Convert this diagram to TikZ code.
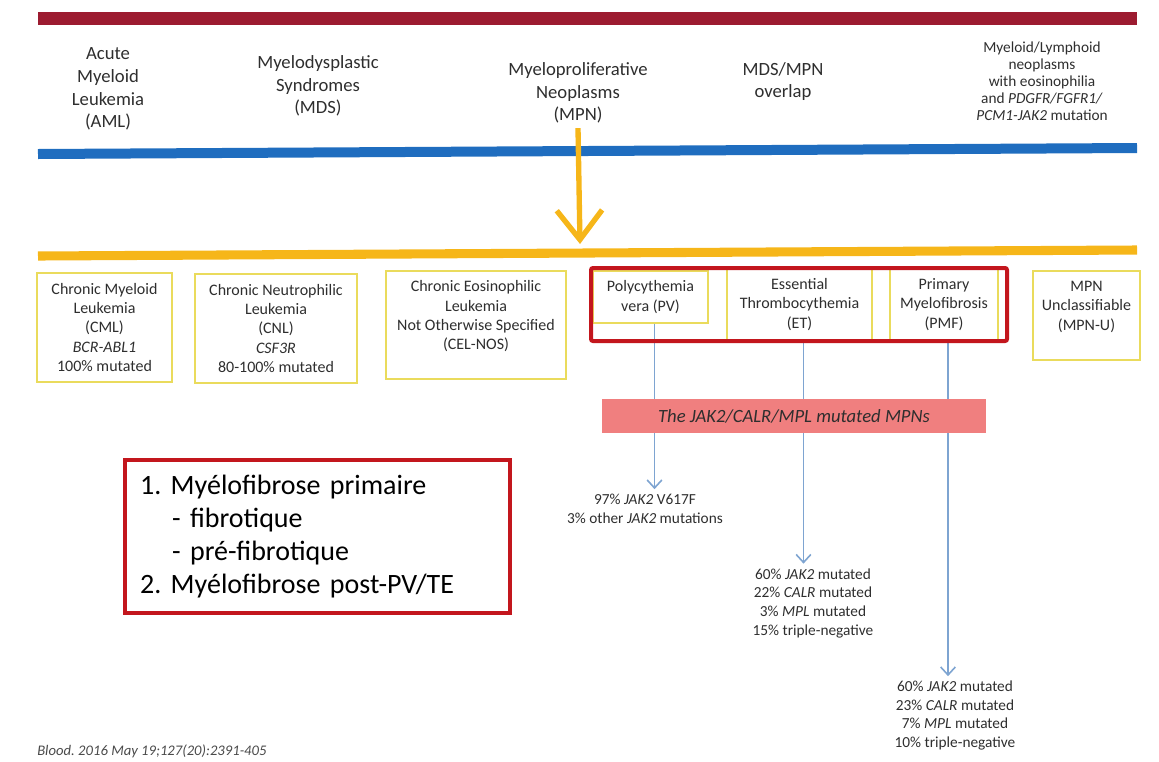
\documentclass[tikz,border=0pt]{standalone}
\usepackage{fontspec}
\setmainfont{Carlito}
\usepackage{xcolor}
\usepackage{tikz}
\usetikzlibrary{arrows.meta,positioning,calc}
\frenchspacing
\definecolor{whored}{HTML}{9C1B30}
\definecolor{whoblue}{HTML}{1F6DBF}
\definecolor{whogold}{HTML}{F6B619}
\definecolor{boxyellow}{HTML}{EADB5C}
\definecolor{framered}{HTML}{C3161D}
\definecolor{arrowblue}{HTML}{7EA4D1}
\definecolor{jakpink}{HTML}{F07F7F}
\definecolor{textgray}{HTML}{2E2E2E}
\definecolor{citegray}{HTML}{4A4A4A}
\tikzset{
  catlabel/.style={align=center,text=textgray,font=\fontsize{14}{17}\selectfont},
  classblock/.style={draw=boxyellow,line width=1.1pt,align=center,text=textgray,
    inner sep=0pt,font=\fontsize{12}{14.5}\selectfont},
  mutlabel/.style={align=center,text=textgray,font=\fontsize{11.5}{14}\selectfont},
  flowarrow/.style={-{Straight Barb[length=6pt,width=11pt]},line width=1.2pt,draw=arrowblue},
  mpnarrow/.style={-{Straight Barb[length=22pt,width=34pt]},line width=4pt,draw=whogold},
  jakbar/.style={fill=jakpink,inner sep=0pt,minimum width=288pt,minimum height=25.5pt,
    text=textgray,font=\itshape\fontsize{14}{17}\selectfont},
  notebox/.style={draw=framered,line width=3pt,align=left,text width=266pt,
    inner xsep=11.25pt,minimum height=114.75pt,text=black,font=\fontsize{21}{24.75}\selectfont}
}
\begin{document}
\begin{tikzpicture}[x=0.75pt,y=-0.75pt]
\useasboundingbox (0,0) rectangle (1159,761);
\fill[whored] (38,12) rectangle (1137,25);
\draw[whoblue,line width=7.5pt] (38,154) -- (1137,148);
\draw[whogold,line width=6.8pt] (38,256) -- (1137,250);
\node[catlabel] (aml) at (108,89) {Acute\\Myeloid\\Leukemia\\(AML)};
\node[catlabel] (mds) at (318,86) {Myelodysplastic\\Syndromes\\(MDS)};
\node[catlabel] (mpn) at (578,93) {Myeloproliferative\\Neoplasms\\(MPN)};
\node[catlabel] (overlap) at (783,81.5) {MDS/MPN\\overlap};
\node[catlabel,font=\fontsize{11.5}{12.75}\selectfont] (mln) at (1042,81)
  {Myeloid/Lymphoid\\neoplasms\\with eosinophilia\\and \textit{PDGFR/FGFR1/}\\\textit{PCM1-JAK2} mutation};
\coordinate (goldtip) at (580,244);
\draw[mpnarrow] (mpn.south) -- (goldtip);
\node[classblock,minimum width=101.25pt,minimum height=81.75pt] (cml) at (104.5,327.5)
  {Chronic Myeloid\\Leukemia\\(CML)\\\textit{BCR-ABL1}\\100\% mutated};
\node[classblock,minimum width=121.5pt,minimum height=81.75pt] (cnl) at (276,328.5)
  {Chronic Neutrophilic\\Leukemia\\(CNL)\\\textit{CSF3R}\\80-100\% mutated};
\node[classblock,minimum width=135pt,minimum height=81pt] (cel) at (476,325)
  {Chronic Eosinophilic\\Leukemia\\Not Otherwise Specified\\(CEL-NOS)\\\mbox{}};
\node[classblock,minimum width=86.25pt,minimum height=39pt] (pv) at (650.5,297)
  {Polycythemia\\vera (PV)};
\node[classblock,minimum width=108.75pt,minimum height=52.5pt] (et) at (799.5,304.5)
  {Essential\\Thrombocythemia\\(ET)};
\node[classblock,minimum width=81pt,minimum height=52.5pt] (pmf) at (944,304.5)
  {Primary\\Myelofibrosis\\(PMF)};
\node[classblock,minimum width=80.25pt,minimum height=66.75pt] (mpnu) at (1086.5,315.5)
  {MPN\\Unclassifiable\\(MPN-U)\\\mbox{}};
\node[mutlabel] (pvmut) at (645,508.5) {97\% \textit{JAK2} V617F\\3\% other \textit{JAK2} mutations};
\node[mutlabel] (etmut) at (813,603)
  {60\% \textit{JAK2} mutated\\22\% \textit{CALR} mutated\\3\% \textit{MPL} mutated\\15\% triple-negative};
\node[mutlabel] (pmfmut) at (955,715.5)
  {60\% \textit{JAK2} mutated\\23\% \textit{CALR} mutated\\7\% \textit{MPL} mutated\\10\% triple-negative};
\draw[flowarrow] ($(pv.south)+(4,0)$) -- ($(pv.south |- pvmut.north)+(4,0)$);
\draw[flowarrow] ($(et.south)+(4,0)$) -- ($(et.south |- etmut.north)+(4,0)$);
\draw[flowarrow] ($(pmf.south)+(4,0)$) -- ($(pmf.south |- pmfmut.north)+(4,0)$);
\draw[framered,line width=3pt,rounded corners=1.5pt] (591,268) rectangle (1007,341);
\node[jakbar] (jak) at (794,416) {The JAK2/CALR/MPL mutated MPNs};
\node[notebox] (pmfnote) at (317.5,536.5)
  {1. Myélofibrose primaire\\\hspace*{24pt}- fibrotique\\\hspace*{24pt}- pré-fibrotique\\2. Myélofibrose post-PV/TE};
\node[anchor=west,inner sep=0pt,text=citegray,font=\itshape\fontsize{11}{13}\selectfont] (cite)
  at (37,751) {Blood. 2016 May 19;127(20):2391-405};
\end{tikzpicture}
\end{document}
